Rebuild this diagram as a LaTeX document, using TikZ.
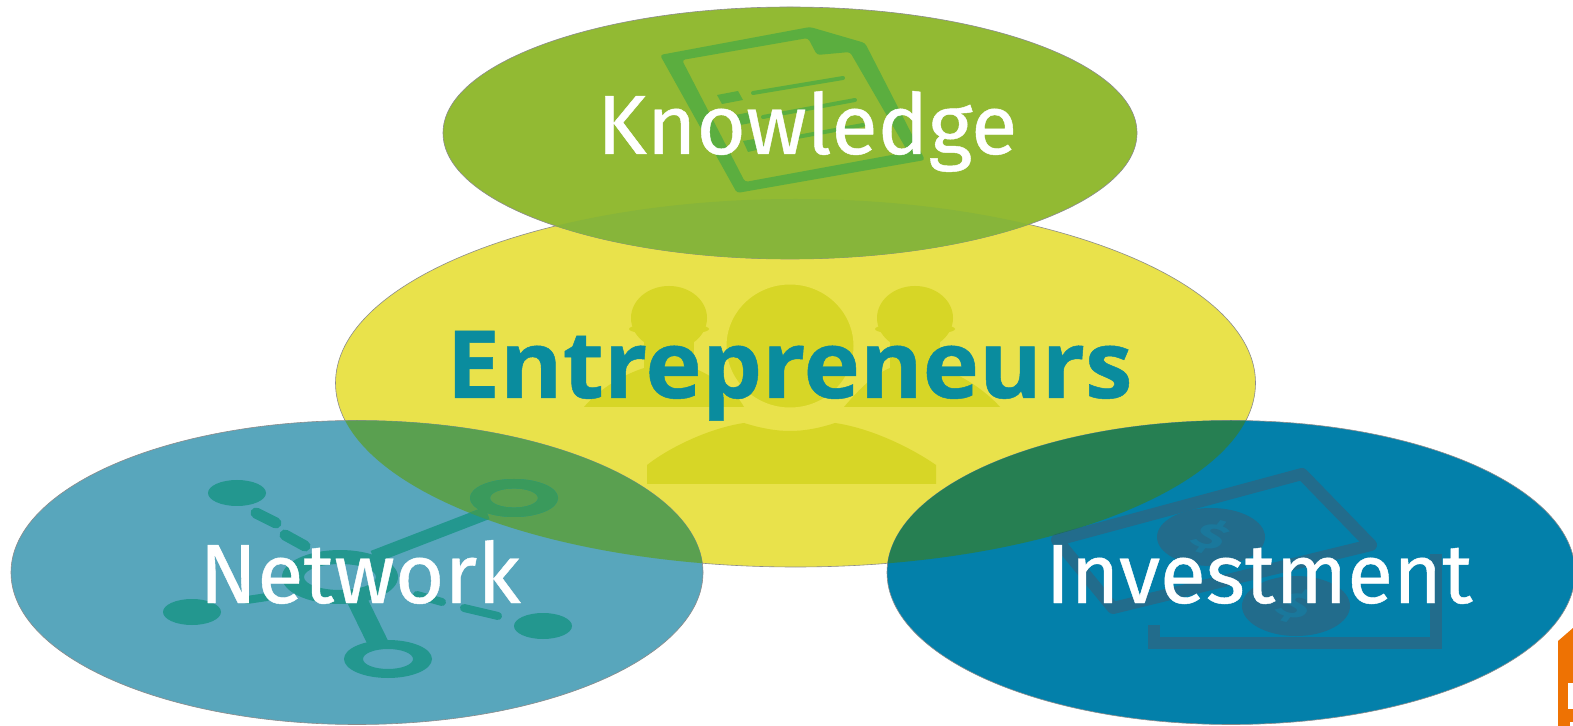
\documentclass[tikz,border=0pt]{standalone}
\usepackage{fontspec}
\setmainfont{Fira Sans}
\newfontfamily\lblfont[FakeBold=0.5]{Fira Sans}
\newfontfamily\entfont[BoldFeatures={FakeBold=0.5}]{Open Sans}
\usetikzlibrary{shapes.geometric}
\definecolor{cK}{HTML}{92BA33}
\definecolor{cKo}{HTML}{87B53A}
\definecolor{cE}{HTML}{E9E24B}
\definecolor{cN}{HTML}{58A6BC}
\definecolor{cNo}{HTML}{5AA050}
\definecolor{cI}{HTML}{0380AA}
\definecolor{cIo}{HTML}{267F52}
\definecolor{iK}{HTML}{5BAE3F}
\definecolor{iE}{HTML}{D7D626}
\definecolor{iN}{HTML}{23978F}
\definecolor{iNo}{HTML}{3A9A5C}
\definecolor{iI}{HTML}{226C8C}
\definecolor{iIo}{HTML}{1F6E55}
\definecolor{tE}{HTML}{0A8C9E}
\definecolor{cO}{HTML}{EE7203}
\definecolor{gD}{HTML}{1A789C}
\tikzset{
  blob/.style={ellipse,draw=black!45,line width=0.3pt,inner sep=0pt},
  lbl/.style={text=white,font=\lblfont\fontsize{42}{42}\selectfont,inner sep=0pt},
  glyph/.style={font=\fontsize{25}{25}\selectfont\bfseries,inner sep=0pt}
}
\newcommand{\netIcon}[1]{%
  \begin{scope}[#1,line cap=round]
    \draw[line width=6.5pt,line cap=butt] (373,557) -- (487,513);
    \draw[line width=10pt,line cap=butt] (357,600) -- (380,647);
    \draw[line width=5.5pt] (256,513) -- (276,523);
    \draw[line width=5.5pt] (285,535) -- (305,546);
    \draw[line width=4pt] (247,600) -- (267,597);
    \draw[line width=4pt] (417,595) -- (442,602);
    \draw[line width=4pt] (464,608) -- (498,616);
    \fill (237,493) ellipse [x radius=14.5pt,y radius=6.5pt];
    \fill (192,612) ellipse [x radius=14.5pt,y radius=6.5pt];
    \fill (543,626) ellipse [x radius=14.5pt,y radius=6.5pt];
    \fill[even odd rule] (340,577) ellipse [x radius=29pt,y radius=13.5pt] (340,577) ellipse [x radius=18pt,y radius=6.5pt];
    \fill[even odd rule] (514,498) ellipse [x radius=22pt,y radius=9.5pt] (514,498) ellipse [x radius=12pt,y radius=4.8pt];
    \fill[even odd rule] (388,659) ellipse [x radius=22pt,y radius=9.5pt] (388,659) ellipse [x radius=12.5pt,y radius=5pt];
  \end{scope}}
\newcommand{\billIcon}[1]{%
  \draw[#1,line width=6pt,line join=round] (1057,540) -- (1302,474) -- (1371,545) -- (1113,608) -- cycle;}
\begin{document}
\begin{tikzpicture}[x=0.5pt,y=-0.5pt]
\useasboundingbox (0,0) rectangle (1573,726);
\fill[white] (0,0) rectangle (1573,726);
% yellow ellipse
\node[blob,fill=cE,minimum width=460pt,minimum height=184pt] (ent) at (795.5,383) {};
% people icon
\fill[iE] (669,318) ellipse [x radius=19pt,y radius=16pt];
\fill[iE] (669,329) ellipse [x radius=20pt,y radius=3pt];
\fill[iE] (644,330) rectangle (694,372);
\fill[iE] (915,318) ellipse [x radius=19pt,y radius=16pt];
\fill[iE] (915,329) ellipse [x radius=20pt,y radius=3pt];
\fill[iE] (890,330) rectangle (940,372);
\fill[iE] (584,407) .. controls (600,388) and (625,374) .. (644,368) -- (694,368) .. controls (712,376) and (735,390) .. (744,407) -- cycle;
\fill[iE] (844,407) .. controls (860,388) and (875,374) .. (890,368) -- (940,368) .. controls (960,374) and (985,390) .. (1000,407) -- cycle;
\fill[iE,draw=cE,line width=1.5pt] (790,346) ellipse [x radius=32.5pt,y radius=31.5pt];
\fill[iE] (647,484) -- (647,465) .. controls (670,447) and (710,428) .. (744,423) .. controls (760,428) and (775,431) .. (790,431) .. controls (805,431) and (820,428) .. (835,423) .. controls (870,428) and (910,447) .. (936,465) -- (936,484) -- cycle;
% knowledge
\node[blob,fill=cK,minimum width=347pt,minimum height=126pt] (kno) at (790,133) {};
\begin{scope}
  \clip (795.5,383) ellipse [x radius=230pt,y radius=92pt];
  \fill[cKo] (790,133) ellipse [x radius=173.5pt,y radius=63pt];
\end{scope}
\fill[iK,even odd rule,rounded corners=1.5pt] (660,55) -- (810,27) -- (865,43) -- (925,160) -- (737,193) -- cycle
   (682,60) -- (808,38) -- (817,55) -- (850,52) -- (908,152) -- (745,182) -- cycle;
\draw[iK,line width=2pt,line cap=round] (753,93) -- (843,78);
\draw[iK,line width=2pt,line cap=round] (763,117) -- (855,100);
\draw[iK,line width=2pt,line cap=round] (797,137) -- (863,125);
\fill[iK] (717,95) -- (738,91) -- (743,100) -- (722,104) -- cycle;
\fill[iK] (730,116) -- (751,112) -- (756,122) -- (735,126) -- cycle;
\fill[iK] (743,141) -- (760,138) -- (765,148) -- (748,152) -- cycle;
% network
\node[blob,fill=cN,minimum width=346pt,minimum height=152pt] (net) at (357,572.5) {};
\begin{scope}
  \clip (795.5,383) ellipse [x radius=230pt,y radius=92pt];
  \fill[cNo] (357,572.5) ellipse [x radius=173pt,y radius=76pt];
\end{scope}
\netIcon{iN,draw=iN,fill=iN}
\begin{scope}
  \clip (795.5,383) ellipse [x radius=230pt,y radius=92pt];
  \netIcon{iNo,draw=iNo,fill=iNo}
\end{scope}
% investment
\node[blob,fill=cI,minimum width=344pt,minimum height=152pt] (inv) at (1231,572.5) {};
\begin{scope}
  \clip (795.5,383) ellipse [x radius=230pt,y radius=92pt];
  \fill[cIo] (1231,572.5) ellipse [x radius=172pt,y radius=76pt];
\end{scope}
\draw[iI,line width=6pt] (1154,625) -- (1154,643) -- (1436,643) -- (1436,554);
\billIcon{iI}
\begin{scope}
  \clip (795.5,383) ellipse [x radius=230pt,y radius=92pt];
  \billIcon{iIo}
\end{scope}
\fill[iI] (1211,537) ellipse [x radius=27pt,y radius=14.5pt];
\fill[iI] (1296,606) ellipse [x radius=27pt,y radius=15pt];
\node[glyph,text=gD,xscale=1.2,yscale=0.7,rotate=-25] (d1) at (1211,537) {\$};
\node[glyph,text=gD,xscale=1.2,yscale=0.7,rotate=-25] (d2) at (1296,606) {\$};
% orange corner
\fill[cO] (1558,726) -- (1558,641) -- (1573,628) -- (1573,726) -- cycle;
\fill[white] (1568,683) rectangle (1573,709);
\fill[white] (1570,722) rectangle (1573,726);
% labels
\node[lbl,anchor=base,xscale=1.01] (tK) at (807,154) {Knowledge};
\node[lbl,anchor=base,xscale=1.01] (tN) at (360,603) {Network};
\node[lbl,anchor=base] (tI) at (1259,603) {Investment};
\node[text=tE,inner sep=0pt,anchor=base,xscale=1.015,font=\entfont\fontsize{47}{47}\selectfont\bfseries] (tE) at (789.5,398) {Entrepreneurs};
\end{tikzpicture}
\end{document}
